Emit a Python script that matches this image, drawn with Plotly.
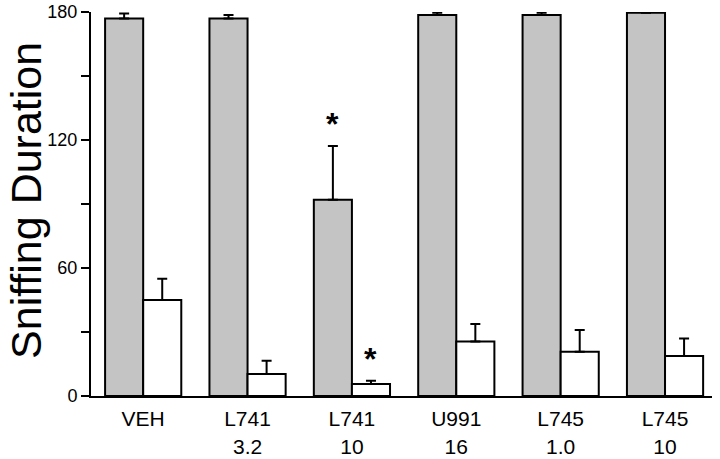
import plotly.graph_objects as go

# groups on the x axis (drug, dose)
drugs = ["VEH", "L741", "L741", "U991", "L745", "L745"]
doses = ["", "3.2", "10", "16", "1.0", "10"]

# grey bars (first series) and white bars (second series), with upward SEM
grey_vals = [177.0, 177.0, 92.0, 178.6, 178.6, 179.7]
grey_err = [2.3, 1.6, 25.2, 1.0, 1.0, 0.0]
white_vals = [45.0, 10.3, 5.6, 25.5, 20.8, 18.8]
white_err = [10.0, 6.2, 1.6, 8.2, 10.1, 8.1]

# significance markers: (group index, series)
stars = [(2, "grey"), (2, "white")]

yticks = [0, 30, 60, 90, 120, 150, 180]
ytick_text = ["0", "", "60", "", "120", "", "180"]

FONT = "Arial, Liberation Sans, sans-serif"
xpos = list(range(len(drugs)))
ticktext = [f"{d}<br>{s}" if s else d for d, s in zip(drugs, doses)]

fig = go.Figure()
for vals, err, color in [(grey_vals, grey_err, "#c4c4c4"), (white_vals, white_err, "white")]:
    fig.add_trace(go.Bar(
        x=xpos, y=vals,
        marker=dict(color=color, line=dict(color="black", width=2)),
        error_y=dict(type="data", symmetric=False, array=err,
                     arrayminus=[0] * len(err), color="black",
                     thickness=2, width=5),
        cliponaxis=False,
        showlegend=False,
    ))

# asterisks above the error bars
half = 0.182
for idx, series in stars:
    if series == "grey":
        top = grey_vals[idx] + grey_err[idx]
        xx = idx - half
    else:
        top = white_vals[idx] + white_err[idx]
        xx = idx + half
    fig.add_annotation(x=xx, y=top, text="<b>*</b>", showarrow=False,
                       yanchor="bottom", yshift=2,
                       font=dict(size=32, color="black", family=FONT))

fig.add_annotation(x=-0.105, y=0.51, xref="paper", yref="paper",
                   text="Sniffing Duration", textangle=-90, showarrow=False,
                   xanchor="center", yanchor="middle",
                   font=dict(size=43, color="black", family=FONT))

fig.update_layout(
    width=720, height=459,
    margin=dict(l=91, r=8, t=12, b=63),
    barmode="group", bargap=0.27, bargroupgap=0,
    plot_bgcolor="white", paper_bgcolor="white",
    font=dict(family=FONT, color="black"),
)
fig.update_xaxes(
    range=[-0.5, 5.45], tickvals=xpos, ticktext=ticktext,
    showline=True, linecolor="black", linewidth=2,
    ticks="", showgrid=False, zeroline=False, automargin=False,
    tickfont=dict(size=21), ticklabelstandoff=3,
)
fig.update_yaxes(
    range=[0, 180], tickvals=yticks, ticktext=ytick_text,
    showline=True, linecolor="black", linewidth=2,
    ticks="outside", ticklen=8, tickwidth=2, tickcolor="black",
    showgrid=False, zeroline=False, automargin=False,
    tickfont=dict(size=18),
)

# drop the browser's default 8px body margin so the figure sits at (0, 0)
fig.write_html("out.html", config={"displayModeBar": False},
               post_script="document.body.style.margin = '0';")
